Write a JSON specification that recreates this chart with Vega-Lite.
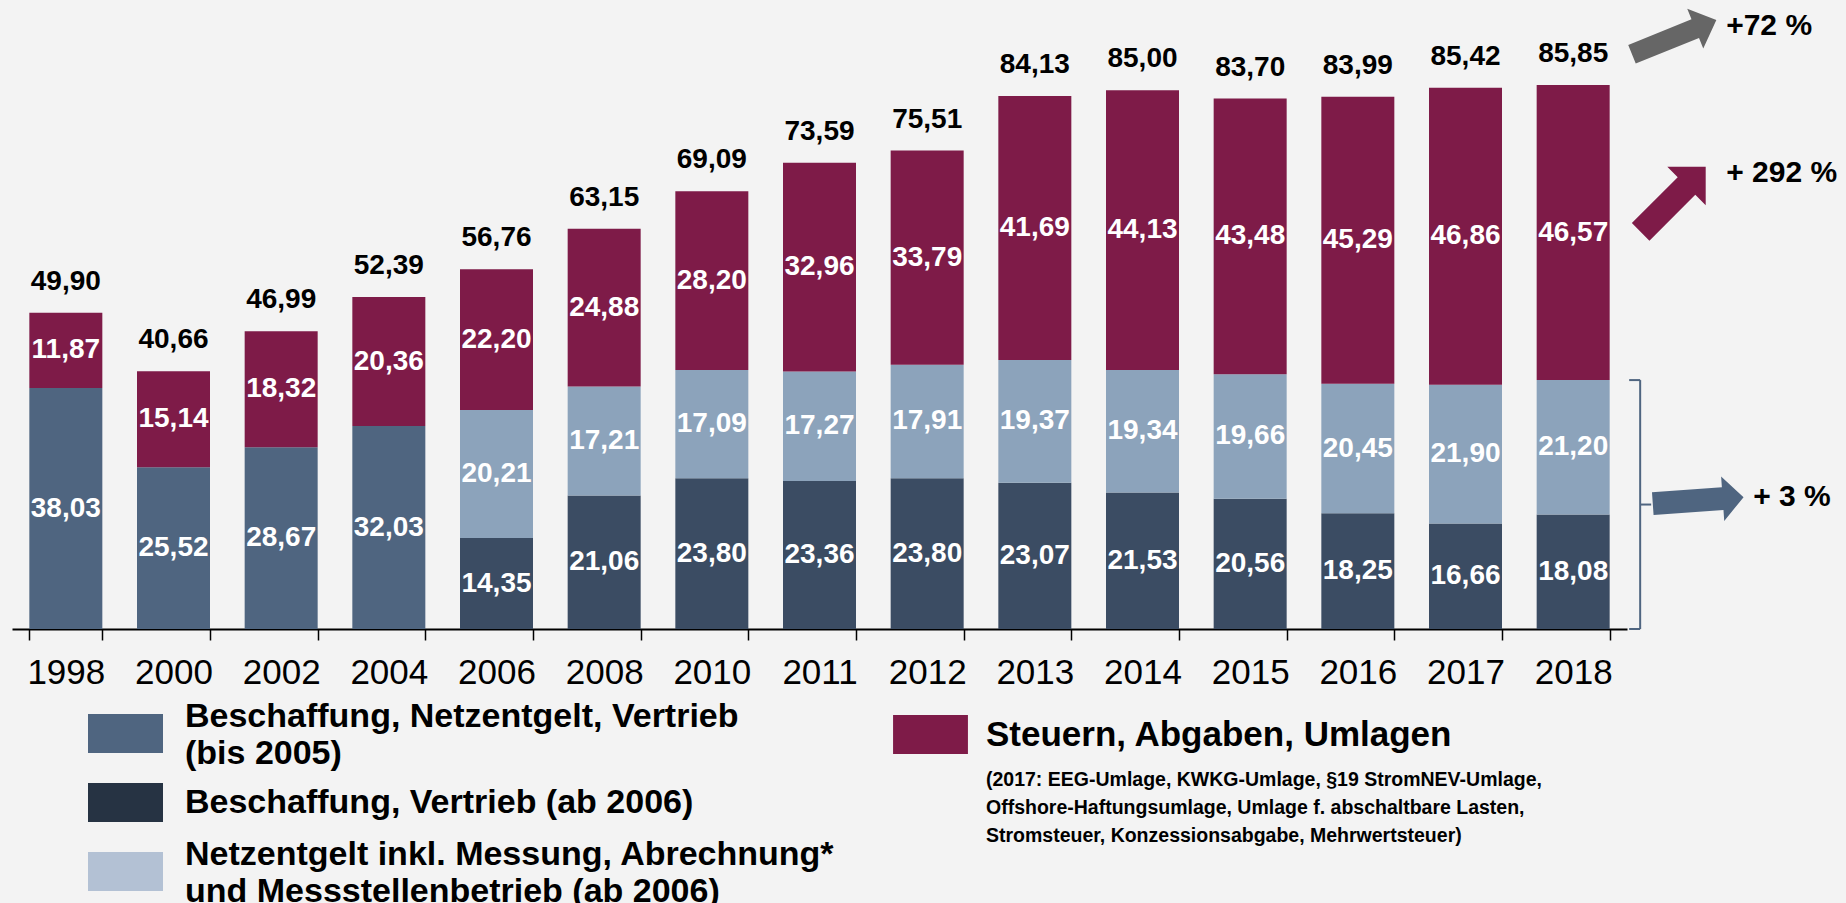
{
  "$schema": "https://vega.github.io/schema/vega-lite/v6.json",
  "width": 1615,
  "height": 629,
  "autosize": {"type": "none"},
  "padding": {"left": 12, "top": 0, "right": 219, "bottom": 274},
  "background": "#F3F3F3",
  "config": {
    "view": {"stroke": null},
    "locale": {"number": {"decimal": ",", "thousands": ".", "grouping": [3], "currency": ["", " €"]}}
  },
  "datasets": {
    "parts": [
      {"year": "1998", "category": "Beschaffung, Netzentgelt, Vertrieb (bis 2005)", "value": 38.03},
      {"year": "1998", "category": "Steuern, Abgaben, Umlagen", "value": 11.87},
      {"year": "2000", "category": "Beschaffung, Netzentgelt, Vertrieb (bis 2005)", "value": 25.52},
      {"year": "2000", "category": "Steuern, Abgaben, Umlagen", "value": 15.14},
      {"year": "2002", "category": "Beschaffung, Netzentgelt, Vertrieb (bis 2005)", "value": 28.67},
      {"year": "2002", "category": "Steuern, Abgaben, Umlagen", "value": 18.32},
      {"year": "2004", "category": "Beschaffung, Netzentgelt, Vertrieb (bis 2005)", "value": 32.03},
      {"year": "2004", "category": "Steuern, Abgaben, Umlagen", "value": 20.36},
      {"year": "2006", "category": "Beschaffung, Vertrieb (ab 2006)", "value": 14.35},
      {"year": "2006", "category": "Netzentgelt inkl. Messung, Abrechnung* und Messstellenbetrieb (ab 2006)", "value": 20.21},
      {"year": "2006", "category": "Steuern, Abgaben, Umlagen", "value": 22.20},
      {"year": "2008", "category": "Beschaffung, Vertrieb (ab 2006)", "value": 21.06},
      {"year": "2008", "category": "Netzentgelt inkl. Messung, Abrechnung* und Messstellenbetrieb (ab 2006)", "value": 17.21},
      {"year": "2008", "category": "Steuern, Abgaben, Umlagen", "value": 24.88},
      {"year": "2010", "category": "Beschaffung, Vertrieb (ab 2006)", "value": 23.80},
      {"year": "2010", "category": "Netzentgelt inkl. Messung, Abrechnung* und Messstellenbetrieb (ab 2006)", "value": 17.09},
      {"year": "2010", "category": "Steuern, Abgaben, Umlagen", "value": 28.20},
      {"year": "2011", "category": "Beschaffung, Vertrieb (ab 2006)", "value": 23.36},
      {"year": "2011", "category": "Netzentgelt inkl. Messung, Abrechnung* und Messstellenbetrieb (ab 2006)", "value": 17.27},
      {"year": "2011", "category": "Steuern, Abgaben, Umlagen", "value": 32.96},
      {"year": "2012", "category": "Beschaffung, Vertrieb (ab 2006)", "value": 23.80},
      {"year": "2012", "category": "Netzentgelt inkl. Messung, Abrechnung* und Messstellenbetrieb (ab 2006)", "value": 17.91},
      {"year": "2012", "category": "Steuern, Abgaben, Umlagen", "value": 33.79},
      {"year": "2013", "category": "Beschaffung, Vertrieb (ab 2006)", "value": 23.07},
      {"year": "2013", "category": "Netzentgelt inkl. Messung, Abrechnung* und Messstellenbetrieb (ab 2006)", "value": 19.37},
      {"year": "2013", "category": "Steuern, Abgaben, Umlagen", "value": 41.69},
      {"year": "2014", "category": "Beschaffung, Vertrieb (ab 2006)", "value": 21.53},
      {"year": "2014", "category": "Netzentgelt inkl. Messung, Abrechnung* und Messstellenbetrieb (ab 2006)", "value": 19.34},
      {"year": "2014", "category": "Steuern, Abgaben, Umlagen", "value": 44.13},
      {"year": "2015", "category": "Beschaffung, Vertrieb (ab 2006)", "value": 20.56},
      {"year": "2015", "category": "Netzentgelt inkl. Messung, Abrechnung* und Messstellenbetrieb (ab 2006)", "value": 19.66},
      {"year": "2015", "category": "Steuern, Abgaben, Umlagen", "value": 43.48},
      {"year": "2016", "category": "Beschaffung, Vertrieb (ab 2006)", "value": 18.25},
      {"year": "2016", "category": "Netzentgelt inkl. Messung, Abrechnung* und Messstellenbetrieb (ab 2006)", "value": 20.45},
      {"year": "2016", "category": "Steuern, Abgaben, Umlagen", "value": 45.29},
      {"year": "2017", "category": "Beschaffung, Vertrieb (ab 2006)", "value": 16.66},
      {"year": "2017", "category": "Netzentgelt inkl. Messung, Abrechnung* und Messstellenbetrieb (ab 2006)", "value": 21.90},
      {"year": "2017", "category": "Steuern, Abgaben, Umlagen", "value": 46.86},
      {"year": "2018", "category": "Beschaffung, Vertrieb (ab 2006)", "value": 18.08},
      {"year": "2018", "category": "Netzentgelt inkl. Messung, Abrechnung* und Messstellenbetrieb (ab 2006)", "value": 21.20},
      {"year": "2018", "category": "Steuern, Abgaben, Umlagen", "value": 46.57}
    ],
    "totals": [
      {"year": "1998", "total": 49.90},
      {"year": "2000", "total": 40.66},
      {"year": "2002", "total": 46.99},
      {"year": "2004", "total": 52.39},
      {"year": "2006", "total": 56.76},
      {"year": "2008", "total": 63.15},
      {"year": "2010", "total": 69.09},
      {"year": "2011", "total": 73.59},
      {"year": "2012", "total": 75.51},
      {"year": "2013", "total": 84.13},
      {"year": "2014", "total": 85.00},
      {"year": "2015", "total": 83.70},
      {"year": "2016", "total": 83.99},
      {"year": "2017", "total": 85.42},
      {"year": "2018", "total": 85.85}
    ]
  },
  "encoding": {
    "x": {
      "field": "year",
      "type": "ordinal",
      "scale": {"paddingInner": 0.322, "paddingOuter": 0.161},
      "axis": {
        "title": null,
        "labelAngle": 0,
        "labelFont": "Liberation Sans",
        "labelFontSize": 35,
        "labelColor": "#000000",
        "labelPadding": 15,
        "domainColor": "#000000",
        "domainWidth": 2,
        "tickColor": "#000000",
        "tickWidth": 1.5,
        "tickSize": 11,
        "tickBand": "extent",
        "grid": false
      }
    }
  },
  "layer": [
    {
      "data": {"name": "parts"},
      "transform": [
        {"stack": "value", "groupby": ["year"], "sort": [{"field": "category", "order": "ascending"}], "as": ["y0", "y1"]},
        {"filter": "datum.category != 'Steuern, Abgaben, Umlagen'"}
      ],
      "mark": {"type": "bar"},
      "encoding": {
        "y": {"field": "y1", "type": "quantitative", "scale": {"domain": [0, 99.26], "nice": false}, "axis": null},
        "y2": {"field": "y0"},
        "color": {
          "field": "category",
          "type": "nominal",
          "scale": {
            "domain": ["Beschaffung, Netzentgelt, Vertrieb (bis 2005)", "Beschaffung, Vertrieb (ab 2006)", "Netzentgelt inkl. Messung, Abrechnung* und Messstellenbetrieb (ab 2006)"],
            "range": ["#4F6580", "#3B4C63", "#8CA3BB"]
          },
          "legend": {
            "title": null,
            "orient": "none",
            "legendX": 94,
            "legendY": 714,
            "direction": "vertical",
            "padding": 0,
            "symbolType": "M-2.846,-1H2.846V1H-2.846Z",
            "symbolSize": 380.25,
            "symbolStrokeWidth": 0,
            "labelFont": "Liberation Sans",
            "labelFontSize": 34,
            "labelFontWeight": "bold",
            "labelColor": "#000000",
            "labelLimit": 0,
            "labelOffset": 40,
            "rowPadding": -37,
            "labelExpr": "datum.value == 'Beschaffung, Netzentgelt, Vertrieb (bis 2005)' ? ['Beschaffung, Netzentgelt, Vertrieb', '(bis 2005)'] : datum.value == 'Netzentgelt inkl. Messung, Abrechnung* und Messstellenbetrieb (ab 2006)' ? ['Netzentgelt inkl. Messung, Abrechnung*', 'und Messstellenbetrieb (ab 2006)'] : datum.label",
            "encode": {
              "labels": {"update": {"lineHeight": {"value": 37}, "dy": {"signal": "datum.value == 'Beschaffung, Vertrieb (ab 2006)' ? 0 : -17"}}},
              "symbols": {"update": {"stroke": {"signal": "datum.value == 'Beschaffung, Vertrieb (ab 2006)' ? '#263343' : datum.value == 'Netzentgelt inkl. Messung, Abrechnung* und Messstellenbetrieb (ab 2006)' ? '#B3C1D4' : '#4F6580'"}, "strokeWidth": {"value": 19.5}, "strokeJoin": {"value": "miter"}}}
            }
          }
        }
      }
    },
    {
      "data": {"name": "parts"},
      "transform": [
        {"stack": "value", "groupby": ["year"], "sort": [{"field": "category", "order": "ascending"}], "as": ["y0", "y1"]},
        {"filter": "datum.category == 'Steuern, Abgaben, Umlagen'"}
      ],
      "mark": {"type": "bar"},
      "encoding": {
        "y": {"field": "y1", "type": "quantitative", "scale": {"domain": [0, 99.26], "nice": false}, "axis": null},
        "y2": {"field": "y0"},
        "fill": {
          "field": "category",
          "type": "nominal",
          "scale": {"domain": ["Steuern, Abgaben, Umlagen"], "range": ["#7E1B48"]},
          "legend": {
            "orient": "none",
            "legendX": 899,
            "legendY": 715,
            "padding": 0,
            "symbolType": "M-1.92,-1H1.92V1H-1.92Z",
            "symbolSize": 1521,
            "symbolStrokeWidth": 0,
            "labelFont": "Liberation Sans",
            "labelFontSize": 35,
            "labelFontWeight": "bold",
            "labelColor": "#000000",
            "labelLimit": 0,
            "labelOffset": 36,
            "title": ["(2017: EEG-Umlage, KWKG-Umlage, §19 StromNEV-Umlage,", "Offshore-Haftungsumlage,  Umlage f. abschaltbare Lasten,", "Stromsteuer, Konzessionsabgabe, Mehrwertsteuer)"],
            "titleOrient": "bottom",
            "titleAnchor": "start",
            "titleAlign": "left",
            "titleFont": "Liberation Sans",
            "titleFontSize": 19.5,
            "titleFontWeight": "bold",
            "titleColor": "#000000",
            "titleLineHeight": 28,
            "titleLimit": 0,
            "titlePadding": 17,
            "encode": {"title": {"update": {"dx": {"value": 75}}}}
          }
        }
      }
    },
    {
      "data": {"name": "parts"},
      "mark": {"type": "text", "color": "#FFFFFF", "font": "Liberation Sans", "fontSize": 28, "fontWeight": "bold", "baseline": "middle"},
      "encoding": {
        "y": {"field": "value", "type": "quantitative", "stack": "zero", "bandPosition": 0.5, "scale": {"domain": [0, 99.26], "nice": false}, "axis": null},
        "detail": {"field": "category"},
        "order": {"field": "category", "sort": "ascending"},
        "text": {"field": "value", "type": "quantitative", "format": ".2f"}
      }
    },
    {
      "data": {"name": "totals"},
      "mark": {"type": "text", "color": "#000000", "font": "Liberation Sans", "fontSize": 28, "fontWeight": "bold", "baseline": "alphabetic", "dy": -23},
      "encoding": {
        "y": {"field": "total", "type": "quantitative", "scale": {"domain": [0, 99.26], "nice": false}, "axis": null},
        "text": {"field": "total", "type": "quantitative", "format": ".2f"}
      }
    },
    {
      "data": {"values": [{"year": "2018", "y": 93.4}]},
      "mark": {"type": "point", "shape": "M-1,-0.22L0.5,-0.22L0.5,-0.47L1,0L0.5,0.47L0.5,0.22L-1,0.22Z", "size": 8281, "angle": -22, "filled": true, "color": "#666666", "opacity": 1, "strokeWidth": 0, "xOffset": 101},
      "encoding": {"y": {"field": "y", "type": "quantitative", "scale": {"domain": [0, 99.26], "nice": false}, "axis": null}}
    },
    {
      "data": {"values": [{"year": "2018", "y": 67.8}]},
      "mark": {"type": "point", "shape": "M-1,-0.27L0.41,-0.27L0.41,-0.59L1,0L0.41,0.59L0.41,0.27L-1,0.27Z", "size": 8464, "angle": -45, "filled": true, "color": "#7E1B48", "opacity": 1, "strokeWidth": 0, "xOffset": 100},
      "encoding": {"y": {"field": "y", "type": "quantitative", "scale": {"domain": [0, 99.26], "nice": false}, "axis": null}}
    },
    {
      "data": {"values": [{"year": "2018", "y": 20.3}]},
      "mark": {"type": "point", "shape": "M-1,-0.25L0.54,-0.25L0.54,-0.49L1,0L0.54,0.49L0.54,0.25L-1,0.25Z", "size": 8281, "angle": -4, "filled": true, "color": "#4F6580", "opacity": 1, "strokeWidth": 0, "xOffset": 125},
      "encoding": {"y": {"field": "y", "type": "quantitative", "scale": {"domain": [0, 99.26], "nice": false}, "axis": null}}
    },
    {
      "data": {"values": [{"year": "2018", "y": 95.15, "label": "+72 %"}, {"year": "2018", "y": 71.96, "label": "+ 292 %"}]},
      "mark": {"type": "text", "align": "left", "baseline": "middle", "font": "Liberation Sans", "fontSize": 30, "fontWeight": "bold", "color": "#000000", "dx": 153},
      "encoding": {
        "y": {"field": "y", "type": "quantitative", "scale": {"domain": [0, 99.26], "nice": false}, "axis": null},
        "text": {"field": "label"}
      }
    },
    {
      "data": {"values": [{"year": "2018", "y": 20.83, "label": "+ 3 %"}]},
      "mark": {"type": "text", "align": "left", "baseline": "middle", "font": "Liberation Sans", "fontSize": 30, "fontWeight": "bold", "color": "#000000", "dx": 180},
      "encoding": {
        "y": {"field": "y", "type": "quantitative", "scale": {"domain": [0, 99.26], "nice": false}, "axis": null},
        "text": {"field": "label"}
      }
    },
    {
      "data": {"values": [{"year": "2018", "low": 0, "high": 39.28}]},
      "mark": {"type": "rule", "color": "#4F6580", "strokeWidth": 2, "xOffset": 67},
      "encoding": {
        "y": {"field": "low", "type": "quantitative", "scale": {"domain": [0, 99.26], "nice": false}, "axis": null},
        "y2": {"field": "high"}
      }
    },
    {
      "data": {"values": [{"year": "2018", "y": 39.28}, {"year": "2018", "y": 0}]},
      "mark": {"type": "tick", "orient": "horizontal", "size": 11, "thickness": 2, "color": "#4F6580", "opacity": 1, "xOffset": 61.5},
      "encoding": {"y": {"field": "y", "type": "quantitative", "scale": {"domain": [0, 99.26], "nice": false}, "axis": null}}
    },
    {
      "data": {"values": [{"year": "2018", "y": 19.64}]},
      "mark": {"type": "tick", "orient": "horizontal", "size": 11, "thickness": 2, "color": "#4F6580", "opacity": 1, "xOffset": 72.5},
      "encoding": {"y": {"field": "y", "type": "quantitative", "scale": {"domain": [0, 99.26], "nice": false}, "axis": null}}
    }
  ]
}
